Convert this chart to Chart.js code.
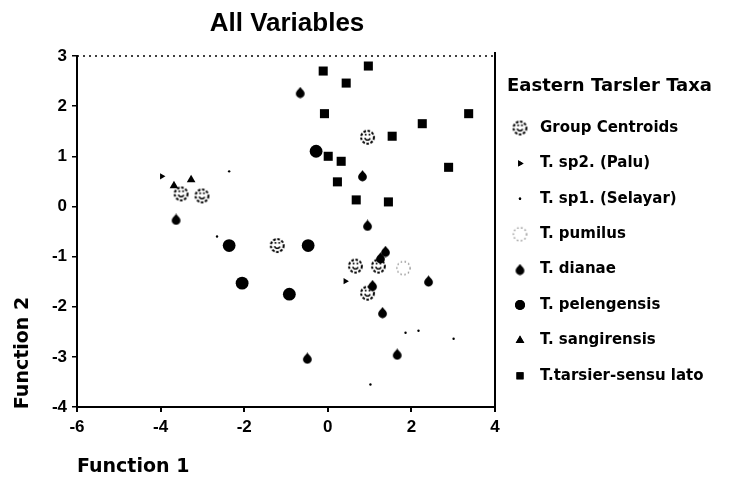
<!DOCTYPE html>
<html><head><meta charset="utf-8">
<script src="https://cdn.jsdelivr.net/npm/chart.js@4.4.1/dist/chart.umd.min.js"></script>
<style>html,body{margin:0;padding:0;background:#fff}#wrap{width:732px;height:487px;position:relative}</style>
</head><body><div id="wrap"><canvas id="c" width="732" height="487"></canvas></div>
<script>
// ---- data ----
const chartTitle = "All Variables";
const xAxisTitle = "Function 1";
const yAxisTitle = "Function 2";
const legendTitle = "Eastern Tarsler Taxa";
const xTicks = [-6, -4, -2, 0, 2, 4];
const yTicks = [3, 2, 1, 0, -1, -2, -3, -4];
const seriesLabels = ["Group Centroids", "T. sp2. (Palu)", "T. sp1. (Selayar)", "T. pumilus", "T. dianae", "T. pelengensis", "T. sangirensis", "T.tarsier-sensu lato"];

const groupCentroids = [[-3.51,0.25],[-3.01,0.21],[-1.21,-0.78],[0.95,1.38],[0.66,-1.19],[1.21,-1.19],[0.95,-1.73]];
const palu = [[-3.97,0.60],[0.42,-1.49]];
const selayar = [[-2.36,0.70],[-2.65,-0.60],[3.01,-2.64],[1.86,-2.52],[2.17,-2.48],[1.02,-3.55]];
const pumilus = [[1.81,-1.23]];
const dianae = [[-0.66,2.27],[0.83,0.61],[0.95,-0.38],[1.38,-0.90],[1.26,-1.03],[1.07,-1.58],[1.31,-2.12],[2.41,-1.49],[1.66,-2.95],[-0.49,-3.03],[-3.63,-0.26]];
const pelengensis = [[-0.28,1.10],[-2.36,-0.78],[-0.47,-0.78],[-2.05,-1.53],[-0.92,-1.75]];
const sangirensis = [[-3.27,0.53],[-3.68,0.41]];
const tarsier = [[-0.11,2.70],[0.97,2.80],[0.44,2.46],[-0.08,1.85],[3.37,1.85],[2.26,1.65],[1.54,1.40],[0.01,1.00],[0.32,0.90],[0.23,0.49],[0.68,0.13],[1.45,0.09],[2.89,0.78]];

// ---- marker canvases ----
function mk(w, h, fn){const c=document.createElement('canvas');c.width=w;c.height=h;const g=c.getContext('2d');fn(g);return c;}
const centroidMark = mk(17,17,g=>{g.strokeStyle='#000';g.lineWidth=2;g.setLineDash([2.6,1.6]);g.beginPath();g.arc(8.5,8.5,6.4,0,Math.PI*2);g.stroke();g.setLineDash([]);g.lineWidth=1.6;g.beginPath();g.arc(8.5,8.6,2.7,0.1*Math.PI,0.95*Math.PI);g.stroke();g.fillStyle='#000';g.fillRect(5.8,5,1.7,1.7);g.fillRect(9.6,5,1.7,1.7);});
const pumilusMark = mk(17,17,g=>{g.strokeStyle='#888';g.lineWidth=1.3;g.setLineDash([1.5,2.5]);g.beginPath();g.arc(8.5,8.5,6.6,0,Math.PI*2);g.stroke();});
const dianaeMark = mk(11,12,g=>{g.fillStyle='#000';g.beginPath();g.arc(5.5,7,4.4,0,Math.PI*2);g.fill();g.beginPath();g.moveTo(5.5,0.3);g.lineTo(8.7,4.5);g.lineTo(2.3,4.5);g.closePath();g.fill();});
const toPts = a => a.map(p => ({x:p[0], y:p[1]}));

const datasets = [
  {label:seriesLabels[0], data:toPts(groupCentroids), pointStyle:centroidMark},
  {label:seriesLabels[1], data:toPts(palu), pointStyle:'triangle', rotation:90, radius:3.6, backgroundColor:'#000', borderColor:'#000', borderWidth:0},
  {label:seriesLabels[2], data:toPts(selayar), pointStyle:'circle', radius:1.2, backgroundColor:'#000', borderColor:'#000', borderWidth:0},
  {label:seriesLabels[3], data:toPts(pumilus), pointStyle:pumilusMark},
  {label:seriesLabels[4], data:toPts(dianae), pointStyle:dianaeMark},
  {label:seriesLabels[5], data:toPts(pelengensis), pointStyle:'circle', radius:6.4, backgroundColor:'#000', borderColor:'#000', borderWidth:0},
  {label:seriesLabels[6], data:toPts(sangirensis), pointStyle:'triangle', radius:5, backgroundColor:'#000', borderColor:'#000', borderWidth:0},
  {label:seriesLabels[7], data:toPts(tarsier), pointStyle:'rect', radius:6.4, backgroundColor:'#000', borderColor:'#000', borderWidth:0}
];

const deco = {
  id:'deco',
  afterDraw(chart){
    const ctx = chart.ctx, a = chart.chartArea;
    ctx.save();
    // top dotted frame
    ctx.strokeStyle='#000'; ctx.lineWidth=1.5; ctx.setLineDash([2,4]);
    ctx.beginPath(); ctx.moveTo(a.left, a.top); ctx.lineTo(a.right, a.top); ctx.stroke();
    // right frame
    ctx.setLineDash([]); ctx.lineWidth=2;
    ctx.beginPath(); ctx.moveTo(a.right, a.top-4); ctx.lineTo(a.right, a.bottom+5); ctx.stroke();
    // title
    ctx.fillStyle='#000';
    ctx.font='bold 26px "Liberation Sans", Arial, sans-serif';
    ctx.textAlign='center'; ctx.textBaseline='alphabetic';
    ctx.fillText(chartTitle, 287, 31);
    // axis titles
    ctx.font='bold 19px "DejaVu Sans", sans-serif';
    ctx.textAlign='left'; ctx.textBaseline='middle';
    ctx.fillText(xAxisTitle, 77, 467);
    ctx.save(); ctx.translate(23, 353); ctx.rotate(-Math.PI/2);
    ctx.textAlign='center'; ctx.fillText(yAxisTitle, 0, 0); ctx.restore();
    // legend
    ctx.font='bold 18px "DejaVu Sans", sans-serif';
    ctx.textAlign='left'; ctx.textBaseline='middle';
    ctx.fillText(legendTitle, 507, 86);
    ctx.font='bold 15px "DejaVu Sans", sans-serif';
    chart.data.datasets.forEach((ds, i) => {
      const y = 128 + i*35.4;
      const ps = ds.pointStyle;
      Chart.helpers.drawPoint(ctx, {pointStyle: ps, rotation: ds.rotation||0, radius: (ps instanceof HTMLCanvasElement)?6:Math.min(ds.radius||4, 5), borderWidth:0}, 520, y);
      if (!(ps instanceof HTMLCanvasElement)) { ctx.fillStyle='#000'; ctx.fill(); }
      ctx.fillStyle='#000';
      ctx.fillText(ds.label, 540, y);
    });
    ctx.restore();
  }
};

new Chart(document.getElementById('c'), {
  type:'scatter',
  data:{datasets},
  options:{
    responsive:false, animation:false, devicePixelRatio:1,
    layout:{padding:{left:0, right:237, top:56, bottom:40}},
    plugins:{legend:{display:false}, tooltip:{enabled:false}, title:{display:false}},
    elements:{point:{radius:6, backgroundColor:'#000', borderColor:'#000', borderWidth:0}},
    scales:{
      x:{type:'linear', min:-6, max:4,
        afterBuildTicks(s){ s.ticks = xTicks.map(v=>({value:v})); },
        afterFit(s){ s.height = 40; },
        grid:{display:true, drawOnChartArea:false, drawTicks:true, tickLength:5, color:'#000', lineWidth:2},
        border:{display:true, color:'#000', width:2, dash:[7,2]},
        ticks:{color:'#000', padding:5, font:{family:'"Liberation Sans", Arial, sans-serif', size:17, weight:'bold'}, maxRotation:0}
      },
      y:{type:'linear', min:-4, max:3,
        afterBuildTicks(s){ s.ticks = yTicks.map(v=>({value:v})); },
        afterFit(s){ s.width = 77; },
        grid:{display:true, drawOnChartArea:false, drawTicks:true, tickLength:5, color:'#000', lineWidth:1.5},
        border:{display:true, color:'#000', width:2},
        ticks:{color:'#000', padding:5, font:{family:'"Liberation Sans", Arial, sans-serif', size:17, weight:'bold'}}
      }
    }
  },
  plugins:[deco]
});
</script>
</body></html>
